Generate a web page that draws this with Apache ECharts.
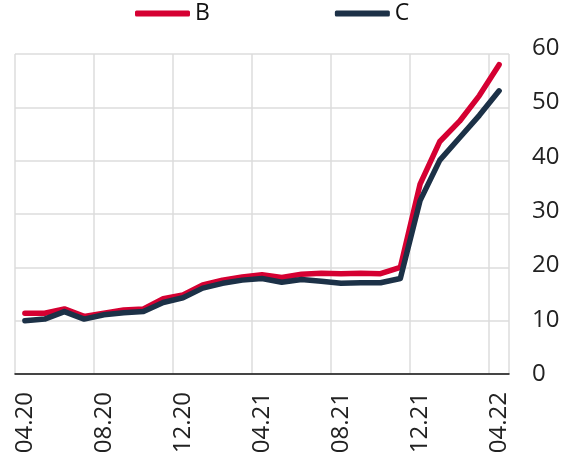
<!DOCTYPE html>
<html>
<head>
<meta charset="utf-8">
<script src="https://cdn.jsdelivr.net/npm/echarts@6/dist/echarts.min.js"></script>
<style>html,body{margin:0;padding:0;background:#fff}#c{width:569px;height:462px}</style>
</head>
<body>
<div id="c"></div>
<script>
var categories = ['04.20','05.20','06.20','07.20','08.20','09.20','10.20','11.20','12.20','01.21','02.21','03.21','04.21','05.21','06.21','07.21','08.21','09.21','10.21','11.21','12.21','01.22','02.22','03.22','04.22'];
var seriesB = [11.4, 11.4, 12.2, 10.8, 11.4, 12.0, 12.2, 14.1, 14.8, 16.7, 17.6, 18.2, 18.6, 18.1, 18.7, 18.9, 18.8, 18.9, 18.8, 20.0, 35.6, 43.6, 47.4, 52.2, 58.0];
var seriesC = [10.0, 10.3, 11.7, 10.3, 11.1, 11.5, 11.7, 13.4, 14.3, 16.1, 17.0, 17.6, 17.9, 17.2, 17.7, 17.4, 17.0, 17.1, 17.1, 17.9, 32.5, 40.1, 44.3, 48.5, 53.1];
var yTicks = [0, 10, 20, 30, 40, 50, 60];

var FONT = '"Open Sans", "Noto Sans", sans-serif';
var chart = echarts.init(document.getElementById('c'), null, {renderer: 'canvas'});
chart.setOption({
  animation: false,
  grid: [
    {left: 15, right: 60, top: 54, bottom: 88, containLabel: false},
    {left: 15, right: 60, top: 48, bottom: 88, containLabel: false}
  ],
  legend: {
    left: 130, top: -3,
    itemWidth: 55, itemHeight: 6, itemGap: 125,
    icon: 'roundRect',
    textStyle: {fontFamily: FONT, fontSize: 23, color: '#111'},
    data: ['B', 'C']
  },
  xAxis: [{
    type: 'category',
    gridIndex: 0,
    data: categories,
    boundaryGap: true,
    axisLine: {show: true, lineStyle: {color: '#111', width: 1.5}},
    axisTick: {show: false},
    axisLabel: {interval: 3, rotate: 90, margin: 18, fontFamily: FONT, fontSize: 24, color: '#222'},
    splitLine: {show: true, interval: 3, lineStyle: {color: '#dcdcdc', width: 1.5}}
  }, {
    type: 'category',
    gridIndex: 1,
    data: categories,
    show: false
  }],
  yAxis: [{
    type: 'value',
    gridIndex: 0,
    position: 'right',
    min: yTicks[0], max: yTicks[yTicks.length - 1], interval: 10,
    axisLine: {show: false},
    axisTick: {show: false},
    axisLabel: {show: false},
    splitLine: {show: true, lineStyle: {color: '#dcdcdc', width: 1.5}}
  }, {
    type: 'value',
    gridIndex: 1,
    position: 'right',
    min: yTicks[0], max: yTicks[yTicks.length - 1], interval: 10,
    axisLine: {show: false},
    axisTick: {show: false},
    axisLabel: {margin: 23, fontFamily: FONT, fontSize: 24, color: '#222'},
    splitLine: {show: false}
  }],
  series: [
    {name: 'B', type: 'line', data: seriesB, symbol: 'none', color: '#d50032',
     xAxisIndex: 0, yAxisIndex: 0,
     lineStyle: {width: 5.5, cap: 'round', join: 'round'}},
    {name: 'C', type: 'line', data: seriesC, symbol: 'none', color: '#1c3147',
     xAxisIndex: 0, yAxisIndex: 0,
     lineStyle: {width: 5.5, cap: 'round', join: 'round'}}
  ]
});
</script>
</body>
</html>
